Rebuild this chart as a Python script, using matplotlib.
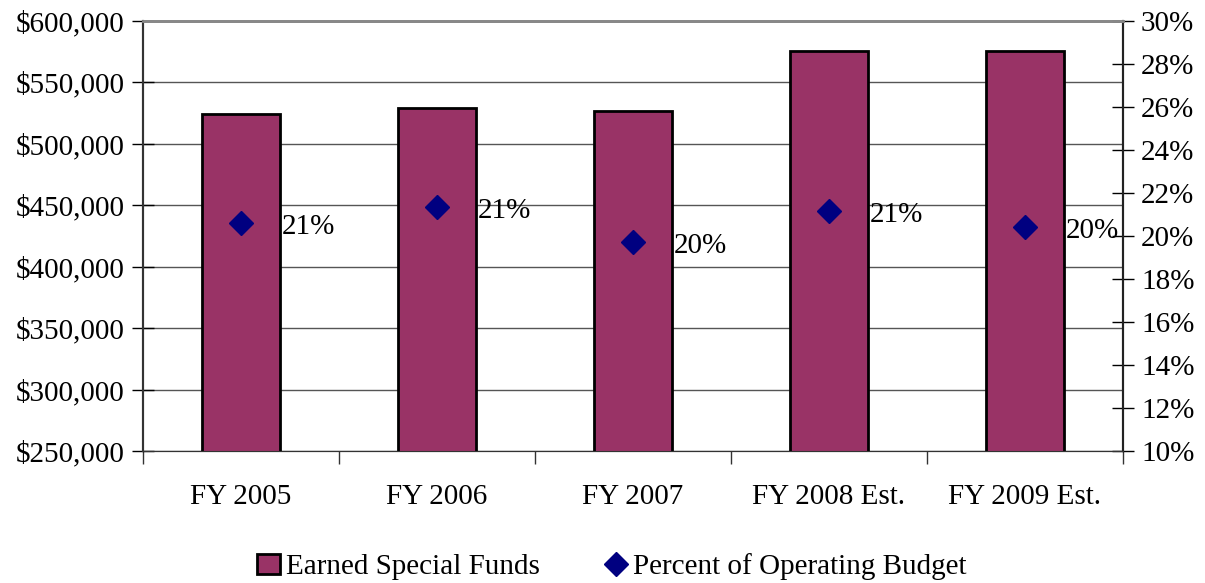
import numpy as np
import matplotlib.pyplot as plt
from matplotlib.lines import Line2D
from matplotlib.patches import Patch
from matplotlib.ticker import FuncFormatter, MultipleLocator

plt.rcParams['font.family'] = ['Liberation Serif', 'DejaVu Serif']

categories = ["FY 2005", "FY 2006", "FY 2007", "FY 2008 Est.", "FY 2009 Est."]
funds = [524500, 528800, 526500, 575300, 575300]
percent = [20.6, 21.35, 19.72, 21.16, 20.42]
pct_labels = ["21%", "21%", "20%", "21%", "20%"]

bar_color = "#993366"
marker_color = "#000080"

fig = plt.figure(figsize=(12.05, 5.83), dpi=100)
ax = fig.add_axes([143/1205, 1 - 451/583, 980/1205, 430/583])
ax2 = ax.twinx()

x = np.arange(len(categories))
ax.bar(x, funds, width=0.40, color=bar_color, edgecolor="black", linewidth=2, zorder=3)
ax.set_xlim(-0.5, len(categories) - 0.5)
ax.set_ylim(250000, 600000)
ax.yaxis.set_major_locator(MultipleLocator(50000))
ax.yaxis.set_major_formatter(FuncFormatter(lambda v, p: "${:,.0f}".format(v)))
ax.grid(axis="y", color="#555555", linewidth=1, zorder=0)
ax.set_axisbelow(True)

# category ticks between bars
ax.set_xticks(np.arange(-0.5, len(categories), 1.0))
ax.set_xticklabels([])
ax.set_xticks(x, minor=True)
ax.set_xticklabels(categories, minor=True)
ax.tick_params(axis="x", which="major", direction="out", length=9, width=1, color="#333333")
ax.tick_params(axis="x", which="minor", length=0, pad=24, labelsize=21)
ax.tick_params(axis="y", direction="inout", length=16, width=1, labelsize=21, pad=5)

ax2.plot(x, percent, linestyle="none", marker="D", markersize=12,
         color=marker_color, zorder=4)
for xi, yi, lab in zip(x, percent, pct_labels):
    ax2.annotate(lab, (xi, yi), xytext=(29, -3), textcoords="offset points",
                 ha="left", va="center", fontsize=21)
ax2.set_ylim(10, 30)
ax2.yaxis.set_major_locator(MultipleLocator(2))
ax2.yaxis.set_major_formatter(FuncFormatter(lambda v, p: "{:.0f}%".format(v)))
ax2.tick_params(axis="y", direction="inout", length=16, width=1, labelsize=21, pad=5)

for a in (ax, ax2):
    a.spines["top"].set_color("#888888")
    a.spines["top"].set_linewidth(2)
    a.spines["left"].set_color("#333333")
    a.spines["right"].set_color("#222222")
    a.spines["bottom"].set_color("#333333")
    a.spines["left"].set_linewidth(1.5)
    a.spines["right"].set_linewidth(1.5)

handles = [
    Patch(facecolor=bar_color, edgecolor="black", linewidth=2, label="Earned Special Funds"),
    Line2D([0], [0], linestyle="none", marker="D", markersize=12, color=marker_color,
           label="Percent of Operating Budget"),
]
fig.legend(handles=handles, loc="center", bbox_to_anchor=(612/1205, 1 - 567/583),
           ncol=2, frameon=False, fontsize=21, handlelength=0.8, handletextpad=0.2,
           columnspacing=2.2)

fig.savefig("out.png", dpi=100)
